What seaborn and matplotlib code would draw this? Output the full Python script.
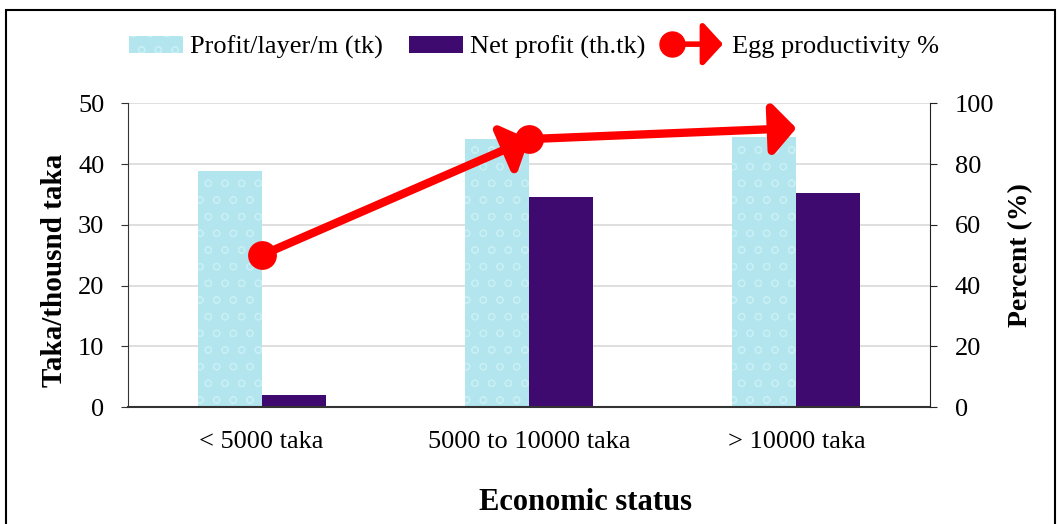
import matplotlib.pyplot as plt
import numpy as np
import pandas as pd
import seaborn as sns
from matplotlib.legend_handler import HandlerBase
from matplotlib.lines import Line2D
from matplotlib.patches import FancyArrowPatch, Patch, Rectangle

# Data
categories = ["< 5000 taka", "5000 to 10000 taka", "> 10000 taka"]
profit_layer = [38.8, 44.1, 44.4]
net_profit = [2.0, 34.5, 35.2]
egg_productivity = [50.0, 88.2, 91.8]

series_names = ["Profit/layer/m (tk)", "Net profit (th.tk)", "Egg productivity %"]

sns.set_style("white")
plt.rcParams["font.family"] = ["Liberation Serif", "DejaVu Serif"]
plt.rcParams["hatch.linewidth"] = 0.8
for chave in ["text.color", "axes.labelcolor", "xtick.color", "ytick.color"]:
    plt.rcParams[chave] = "black"

df = pd.DataFrame({
    "status": categories * 2,
    "value": profit_layer + net_profit,
    "serie": [series_names[0]] * 3 + [series_names[1]] * 3,
})

cor_agua = "#b2e5ed"
cor_gota = "#c8eff4"
cor_roxo = "#3f0a70"
cor_linha = "#ff0000"
seta = "-|>,head_length=1.1,head_width=1.2"


class HandlerSeta(HandlerBase):
    # circulo a esquerda + linha + ponta de seta a direita
    def create_artists(self, legend, orig_handle, xdescent, ydescent,
                       width, height, fontsize, trans):
        y = height / 2 - ydescent
        x0 = -xdescent
        x1 = -xdescent + width - 2
        flecha = FancyArrowPatch(
            (x0, y), (x1, y), arrowstyle=seta, mutation_scale=11,
            color=cor_linha, lw=4, shrinkA=0, shrinkB=0, transform=trans,
        )
        bola = Line2D([x0], [y], marker="o", markersize=18, color=cor_linha,
                      linestyle="none", transform=trans)
        return [flecha, bola]


fig = plt.figure(figsize=(10.58, 5.24), dpi=100)
ax = fig.add_axes([0.121, 0.223, 0.758, 0.58])

sns.barplot(
    data=df, x="status", y="value", hue="serie",
    palette=[cor_agua, cor_roxo], saturation=1, width=0.48, gap=0,
    linewidth=0, legend=False, ax=ax,
)

# textura leve nas barras claras (imitando gotas)
for barra in ax.patches[:3]:
    barra.set_hatch("o")
    barra.set_edgecolor(cor_gota)
    barra.set_linewidth(0)

ax.set_ylim(0, 50)
ax.set_yticks(range(0, 51, 10))
ax.set_xlim(-0.5, 2.5)
ax.yaxis.grid(True, color="#d9d9d9", linewidth=1.2)
ax.set_axisbelow(True)
ax.tick_params(axis="y", labelsize=19, length=5, direction="out", left=True, color="#333333", pad=12)
ax.tick_params(axis="x", labelsize=19, length=0, pad=17)
ax.set_xlabel("Economic status", fontsize=22, fontweight="bold")
ax.xaxis.set_label_coords(0.57, -0.265)
ax.set_ylabel("Taka/thousnd taka", fontsize=21, fontweight="bold")
ax.yaxis.set_label_coords(-0.075, 0.45)
for lado in ["top", "right"]:
    ax.spines[lado].set_visible(False)
ax.spines["left"].set_color("#333333")
ax.spines["bottom"].set_color("#333333")
ax.spines["bottom"].set_linewidth(1.5)

# eixo secundario para produtividade de ovos
ax2 = ax.twinx()
ax2.set_ylim(0, 100)
ax2.set_yticks(range(0, 101, 20))
ax2.tick_params(axis="y", labelsize=19, length=5, direction="out", right=True, color="#222222", pad=13)
ax2.set_ylabel("Percent (%)", fontsize=20, fontweight="bold", labelpad=10)
for lado in ["top", "left", "bottom"]:
    ax2.spines[lado].set_visible(False)
ax2.spines["right"].set_color("#222222")

posicoes = np.arange(len(categories))
for i in range(len(posicoes) - 1):
    ax2.annotate(
        "",
        xy=(posicoes[i + 1], egg_productivity[i + 1]),
        xytext=(posicoes[i], egg_productivity[i]),
        arrowprops=dict(
            arrowstyle=seta, mutation_scale=13,
            color=cor_linha, lw=6, shrinkA=0, shrinkB=0,
        ),
    )
sns.scatterplot(
    x=posicoes[:-1], y=egg_productivity[:-1], ax=ax2,
    color=cor_linha, s=430, linewidth=0, zorder=5,
)

# legenda no topo
handles = [
    Patch(facecolor=cor_agua, edgecolor=cor_gota, hatch="o", linewidth=0),
    Patch(facecolor=cor_roxo, linewidth=0),
    Line2D([], [], color=cor_linha),
]
fig.legend(
    handles, series_names, loc="center", bbox_to_anchor=(0.505, 0.91),
    ncol=3, frameon=False, fontsize=19, handlelength=2.05, handleheight=0.6,
    handletextpad=0.25, columnspacing=1.0,
    handler_map={handles[2]: HandlerSeta()},
)

# moldura externa da figura
fig.patches.append(Rectangle(
    (0.006, -0.05), 0.991, 1.031, transform=fig.transFigure,
    fill=False, edgecolor="black", linewidth=1.5,
))

fig.savefig("out.png", dpi=100)
